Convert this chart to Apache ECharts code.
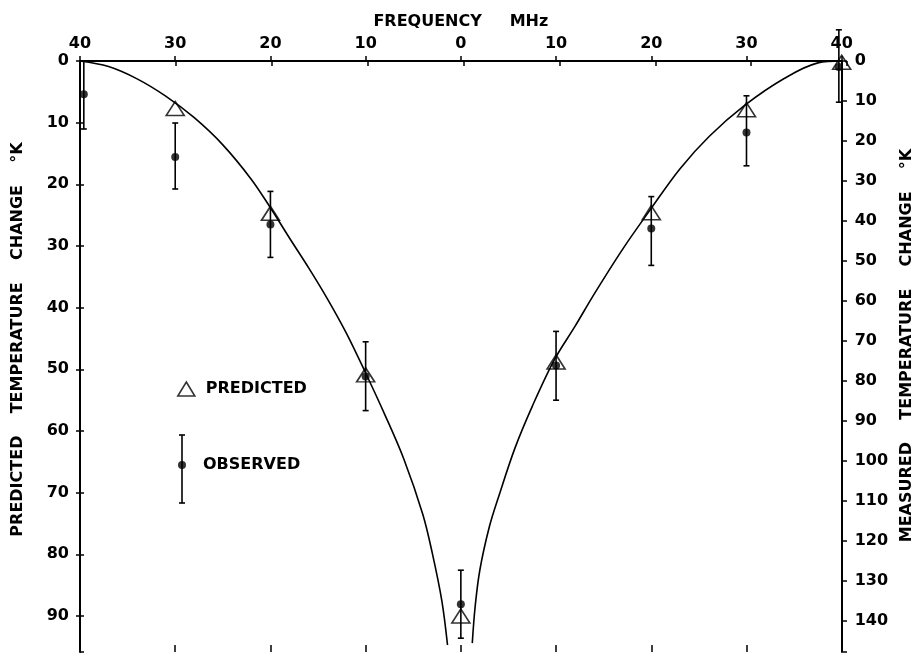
<!DOCTYPE html>
<html>
<head>
<meta charset="utf-8">
<script src="https://cdn.jsdelivr.net/npm/echarts@6/dist/echarts.min.js"></script>
<style>
  html, body { margin: 0; padding: 0; background: #fff; }
  #chart { width: 923px; height: 655px; }
</style>
</head>
<body>
<div id="chart"></div>
<script>
// Predicted temperature change (left scale, °K) at each frequency offset (MHz)
const predFreq = [-30, -20, -10, 0, 10, 20, 30, 40];
const predTemp = [7.7, 24.7, 50.9, 90.0, 48.8, 24.6, 7.9, 0.2];

// Observed (measured) temperature change (right scale, °K) with error bar limits
const obsFreq = [-39.6, -30, -20, -10, 0, 10, 20, 30, 39.7];
const obsTemp = [8.3, 24.0, 40.9, 78.9, 135.8, 76.1, 41.9, 17.9, 1.5];
const obsLow  = [0, 15.5, 32.6, 70.2, 127.3, 67.6, 33.9, 8.7, -7.8];
const obsHigh = [17.0, 32.0, 49.1, 87.4, 144.3, 84.8, 51.1, 26.2, 10.3];

// Theoretical curve, lower-frequency branch and upper-frequency branch
const curveLeftFreq  = [-40, -37, -34, -31, -28, -25, -22, -20, -18, -16, -14, -12, -10, -8, -6, -4, -3, -2, -1.4];
const curveLeftTemp  = [0, 0.9, 2.9, 5.7, 9.2, 13.6, 19.2, 23.8, 28.7, 33.5, 38.6, 44.2, 50.6, 57.3, 64.5, 73.5, 79.8, 87.5, 94.7];
const curveRightFreq = [1.2, 1.5, 2.0, 3.0, 4.0, 5.7, 7.5, 9.8, 12, 14, 17, 19.9, 23, 26.1, 29.8, 34, 37.5, 40];
const curveRightTemp = [94.4, 88.5, 82.5, 75.5, 70.5, 62.7, 56.0, 48.5, 43.0, 37.8, 30.5, 24.1, 17.5, 12.2, 7.2, 2.8, 0.3, 0];

// Axis ranges
const freqMin = -40, freqMax = 40, freqStep = 10;
const predMax = 95.84, measMax = 147.75, tempStep = 10;

const FONT = 'DejaVu Sans';
const ink = '#000';
const labelStyle = { fontFamily: FONT, fontWeight: 'bold', fontSize: 16, color: ink };
const tenOnly = v => (Math.abs(v % 10) < 1e-6 ? String(v) : '');

const pair = (xs, ys) => xs.map((x, i) => [x, ys[i]]);

const gridBox = { left: 80, right: 76, top: 61, bottom: 3, containLabel: false };
const solidLine = { show: true, onZero: false, lineStyle: { color: ink, width: 2 } };
const noLine = { show: false, onZero: false };
const ticks = (inside, length) => ({ show: true, inside: inside, length: length, lineStyle: { color: ink, width: 1.5 } });

const chart = echarts.init(document.getElementById('chart'), null, { renderer: 'canvas' });

chart.setOption({
  animation: false,
  backgroundColor: '#fff',
  grid: [Object.assign({}, gridBox), Object.assign({}, gridBox)],
  xAxis: [
    {
      gridIndex: 0, type: 'value', position: 'top',
      min: freqMin, max: freqMax, interval: freqStep,
      name: 'FREQUENCY     MHz', nameLocation: 'middle', nameGap: 31,
      nameTextStyle: labelStyle,
      axisLine: solidLine,
      axisTick: ticks(false, 5),
      axisLabel: Object.assign({ margin: 9, formatter: v => String(Math.abs(v)) }, labelStyle),
      splitLine: { show: false }
    },
    {
      gridIndex: 0, type: 'value', position: 'bottom',
      min: freqMin, max: freqMax, interval: freqStep,
      axisLine: noLine,
      axisTick: ticks(true, 7),
      axisLabel: { show: false },
      splitLine: { show: false }
    },
    {
      gridIndex: 1, type: 'value', position: 'top',
      min: freqMin, max: freqMax, interval: freqStep,
      axisLine: noLine,
      axisTick: ticks(true, 5),
      axisLabel: { show: false },
      splitLine: { show: false }
    }
  ],
  yAxis: [
    {
      gridIndex: 0, type: 'value', position: 'left', inverse: true,
      min: 0, max: predMax, interval: tempStep,
      name: 'PREDICTED    TEMPERATURE    CHANGE    °K', nameLocation: 'middle', nameRotate: 90, nameGap: 54,
      nameTextStyle: Object.assign({ padding: [0, 0, 0, 34] }, labelStyle),
      axisLine: solidLine,
      axisTick: ticks(false, 4),
      axisLabel: Object.assign({ margin: 11, formatter: tenOnly, showMaxLabel: false }, labelStyle),
      splitLine: { show: false }
    },
    {
      gridIndex: 0, type: 'value', position: 'right', inverse: true,
      min: 0, max: measMax, interval: tempStep,
      name: 'MEASURED    TEMPERATURE    CHANGE    °K', nameLocation: 'middle', nameRotate: 90, nameGap: 55,
      nameTextStyle: Object.assign({ padding: [0, 0, 0, 22] }, labelStyle),
      axisLine: solidLine,
      axisTick: ticks(false, 4),
      axisLabel: Object.assign({ margin: 13, formatter: tenOnly, showMaxLabel: false }, labelStyle),
      splitLine: { show: false }
    },
    {
      gridIndex: 1, type: 'value', position: 'left', inverse: true,
      min: 0, max: predMax, interval: tempStep,
      axisLine: noLine,
      axisTick: ticks(true, 4),
      axisLabel: { show: false },
      splitLine: { show: false }
    },
    {
      gridIndex: 1, type: 'value', position: 'right', inverse: true,
      min: 0, max: measMax, interval: tempStep,
      axisLine: noLine,
      axisTick: ticks(true, 4),
      axisLabel: { show: false },
      splitLine: { show: false }
    }
  ],
  legend: [
    {
      left: 177, top: 381, padding: 0, orient: 'vertical',
      itemWidth: 17, itemHeight: 14,
      textStyle: Object.assign({ padding: [0, 0, 0, 6] }, labelStyle),
      selectedMode: false,
      data: [{ name: 'PREDICTED', icon: 'triangle',
               itemStyle: { color: 'rgba(0,0,0,0)', borderColor: ink, borderWidth: 1.6 } }]
    },
    {
      left: 178, top: 457, padding: 0, orient: 'vertical',
      itemWidth: 8, itemHeight: 8,
      textStyle: Object.assign({ padding: [0, 0, 0, 12] }, labelStyle),
      selectedMode: false,
      data: [{ name: 'OBSERVED', icon: 'circle', itemStyle: { color: ink } }]
    }
  ],
  graphic: [
    // error bar drawn through the OBSERVED key symbol
    { type: 'line', shape: { x1: 182, y1: 435, x2: 182, y2: 503 }, style: { stroke: ink, lineWidth: 1.6 }, z: 10 },
    { type: 'line', shape: { x1: 179, y1: 435, x2: 185, y2: 435 }, style: { stroke: ink, lineWidth: 1.6 }, z: 10 },
    { type: 'line', shape: { x1: 179, y1: 503, x2: 185, y2: 503 }, style: { stroke: ink, lineWidth: 1.6 }, z: 10 }
  ],
  series: [
    {
      name: 'curve-low', type: 'line', xAxisIndex: 0, yAxisIndex: 0,
      data: pair(curveLeftFreq, curveLeftTemp),
      smooth: 0.35, showSymbol: false, symbol: 'none', clip: false,
      lineStyle: { color: ink, width: 1.6 }, z: 2
    },
    {
      name: 'curve-high', type: 'line', xAxisIndex: 0, yAxisIndex: 0,
      data: pair(curveRightFreq, curveRightTemp),
      smooth: 0.35, showSymbol: false, symbol: 'none', clip: false,
      lineStyle: { color: ink, width: 1.6 }, z: 2
    },
    {
      name: 'OBSERVED-range', type: 'custom', xAxisIndex: 0, yAxisIndex: 1,
      data: obsFreq.map((f, i) => [f, obsLow[i], obsHigh[i]]),
      encode: { x: 0, y: [1, 2] },
      clip: false, z: 3,
      renderItem: function (params, api) {
        const f = api.value(0);
        const a = api.coord([f, api.value(1)]);
        const b = api.coord([f, api.value(2)]);
        const cap = 3;
        const st = { stroke: ink, lineWidth: 1.6 };
        return {
          type: 'group',
          children: [
            { type: 'line', shape: { x1: a[0], y1: a[1], x2: b[0], y2: b[1] }, style: st },
            { type: 'line', shape: { x1: a[0] - cap, y1: a[1], x2: a[0] + cap, y2: a[1] }, style: st },
            { type: 'line', shape: { x1: b[0] - cap, y1: b[1], x2: b[0] + cap, y2: b[1] }, style: st }
          ]
        };
      }
    },
    {
      name: 'OBSERVED', type: 'scatter', xAxisIndex: 0, yAxisIndex: 1,
      data: pair(obsFreq, obsTemp),
      symbol: 'circle', symbolSize: 8, clip: false,
      itemStyle: { color: ink }, z: 4
    },
    {
      name: 'PREDICTED', type: 'scatter', xAxisIndex: 0, yAxisIndex: 0,
      data: pair(predFreq, predTemp),
      symbol: 'triangle', symbolSize: [18, 14], clip: false,
      itemStyle: { color: 'rgba(0,0,0,0)', borderColor: ink, borderWidth: 1.6 }, z: 5
    }
  ]
});
</script>
</body>
</html>
